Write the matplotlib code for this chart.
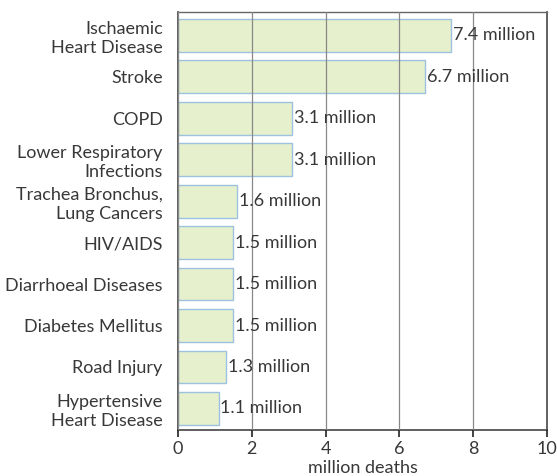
import matplotlib.pyplot as plt

causes = ["Ischaemic\nHeart Disease", "Stroke", "COPD", "Lower Respiratory\nInfections",
          "Trachea Bronchus,\nLung Cancers", "HIV/AIDS", "Diarrhoeal Diseases",
          "Diabetes Mellitus", "Road Injury", "Hypertensive\nHeart Disease"]
deaths = [7.4, 6.7, 3.1, 3.1, 1.6, 1.5, 1.5, 1.5, 1.3, 1.1]
value_labels = ["7.4 million", "6.7 million", "3.1 million", "3.1 million", "1.6 million",
                "1.5 million", "1.5 million", "1.5 million", "1.3 million", "1.1 million"]
xticks = [0, 2, 4, 6, 8, 10]

plt.rcParams['font.family'] = ['Lato', 'DejaVu Sans']
txt = '#383838'
fs = 13

fig = plt.figure(figsize=(5.57, 4.76), dpi=100)
ax = fig.add_axes([0.3196, 0.0966, 0.6624, 0.878])

y = list(range(len(causes)))
ax.barh(y, deaths, height=0.79, color='#e6f0cc', edgecolor='#9cc2e0', linewidth=1.0, zorder=1)

for yi, v, lab in zip(y, deaths, value_labels):
    ax.text(v + 0.05, yi, lab, va='center', ha='left', fontsize=fs, color=txt, zorder=3)

ax.set_xlim(0, 10)
ax.set_ylim(9.52, -0.56)
ax.set_yticks(y)
ax.set_yticklabels(causes, fontsize=fs, color=txt, linespacing=1.25)
ax.tick_params(axis='y', length=0, pad=11)
ax.set_xticks(xticks)
ax.set_xticklabels([str(t) for t in xticks], fontsize=fs, color=txt)
ax.tick_params(axis='x', direction='out', length=5, width=1.2, color='#222222', pad=3)
ax.set_xlabel('million deaths', fontsize=fs, color=txt, labelpad=2)

ax.xaxis.grid(True, color='#888888', linewidth=0.9, zorder=2)
ax.set_axisbelow(False)
for s in ['left', 'bottom', 'right']:
    ax.spines[s].set_color('#444444')
    ax.spines[s].set_linewidth(1.2)
ax.spines['top'].set_color('#666666')
ax.spines['top'].set_linewidth(1.0)

fig.savefig('out.png', dpi=100)
